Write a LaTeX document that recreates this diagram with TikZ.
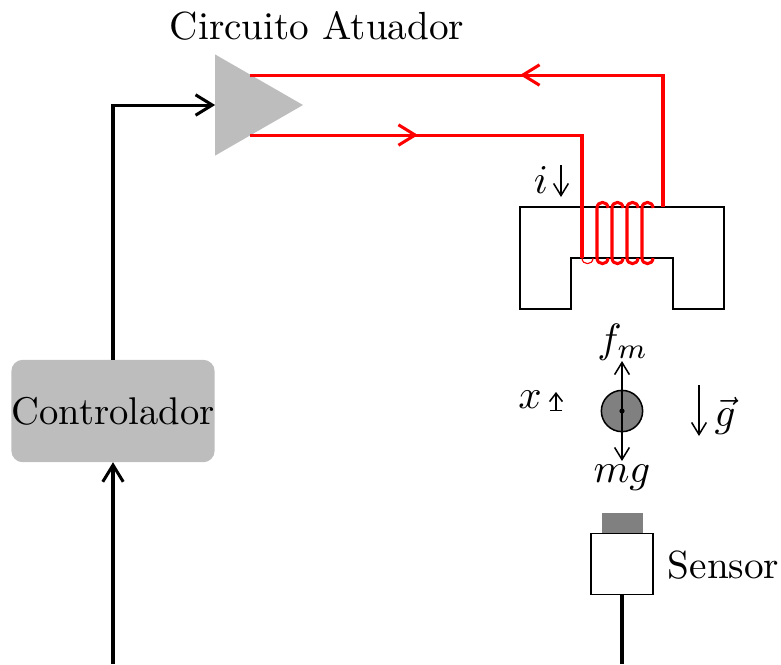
\documentclass[tikz,border=0pt]{standalone}
\usetikzlibrary{shapes.geometric,arrows.meta}
\definecolor{lg}{gray}{0.74}
\tikzset{
 x=0.264pt,y=-0.264pt,
 bigtip/.tip={Straight Barb[length=4.4pt,width=5.4pt]},
 thintip/.tip={Straight Barb[length=3.2pt,width=3.9pt]},
 thinarrow/.style={draw=black,line width=0.4pt,-thintip},
 sig/.style={draw=black,line width=0.8pt,-bigtip},
 wire/.style={draw=black,line width=0.8pt},
 redline/.style={draw=red,line width=0.8pt},
 lab/.style={inner sep=0pt,outer sep=0pt,scale=1.035},
 mathlab/.style={inner sep=0pt,outer sep=0pt,scale=1.08}
}
\begin{document}
\begin{tikzpicture}
\useasboundingbox (0,0) rectangle (781,664);
% amplifier
\node[isosceles triangle,isosceles triangle stretches,fill=lg,minimum width=26.7pt,minimum height=23.2pt,inner sep=0pt,outer sep=0pt,anchor=apex] (amp) at (303,105) {};
\node[lab] (amplab) at (317,26) {Circuito Atuador};
% controller
\node[fill=lg,rounded corners=3pt,minimum width=52.6pt,minimum height=26.5pt,inner sep=0pt,outer sep=0pt,scale=1.02] (ctrl) at (113,411) {Controlador};
% core
\draw[line width=0.4pt] (520,207) -- (724,207) -- (724,309) -- (673,309) -- (673,258) -- (571,258) -- (571,309) -- (520,309) -- cycle;
% red wires
\coordinate (a1) at (250,75);
\coordinate (a2) at (250,135);
\coordinate (c1) at (663,207);
\coordinate (c2) at (582,258);
\draw[redline] (a2) -- (582,135) -- (c2);
\draw[redline] (c1) -- (663,75) -- (a1);
\draw[redline,-bigtip] (a2) -- (418,135);
\draw[redline,-bigtip] (663,75) -- (520,75);
% coil
\draw[red,line width=0.3pt] (c2) .. controls (582,265.5) and (593,265.5) .. (593,258);
\foreach \cx in {597,612,627,642}{
  \draw[redline] (\cx+11,208) .. controls (\cx+11,200.5) and (\cx,200.5) .. (\cx,208) -- (\cx,258)
     .. controls (\cx,265.5) and (\cx+11,265.5) .. (\cx+11,258);
}
% label i
\node[mathlab] (ilab) at (541,180) {$i$};
\coordinate (i1) at (561,165);
\coordinate (i2) at (561,197);
\draw[thinarrow] (i1) -- (i2);
% mass
\node[circle,draw=black,fill=black!50,line width=0.4pt,minimum size=10.9pt,inner sep=0pt] (mass) at (622,411) {};
\fill (mass.center) circle[radius=2.6];
\coordinate (fup) at (622,361);
\coordinate (fdn) at (622,461);
\draw[thinarrow] (mass.center) -- (fup);
\draw[thinarrow] (mass.center) -- (fdn);
\node[mathlab] (fm) at (623,342) {$f_m$};
\node[mathlab] (mg) at (622,478) {$mg$};
% x label
\node[mathlab] (xlab) at (530,400) {$x$};
\coordinate (x1) at (556,411);
\coordinate (x2) at (556,392);
\draw[line width=0.4pt,{Bar[width=3.4pt]}-{Straight Barb[length=2.2pt,width=3.4pt]}] (x1) -- (x2);
% gravity
\coordinate (g1) at (699,385);
\coordinate (g2) at (699,436);
\draw[thinarrow] (g1) -- (g2);
\node[mathlab] (glab) at (725,416) {$\vec{g}$};
% sensor
\node[draw=black,line width=0.4pt,fill=white,minimum width=16.4pt,minimum height=16.1pt,inner sep=0pt,outer sep=0pt] (sensor) at (622,564) {};
\node[fill=black!50,minimum width=10.8pt,minimum height=5.3pt,inner sep=0pt,outer sep=0pt,anchor=south] (cap) at (622.5,533) {};
\node[lab] (senslab) at (723.5,565) {Sensor};
% signal lines
\coordinate (b1) at (113,664);
\coordinate (b2) at (622,664);
\draw[sig] (ctrl.north) |- (amp.lower side);
\draw[sig] (b1) -- (ctrl.south);
\draw[wire] (sensor.south) -- (b2);
\end{tikzpicture}
\end{document}
